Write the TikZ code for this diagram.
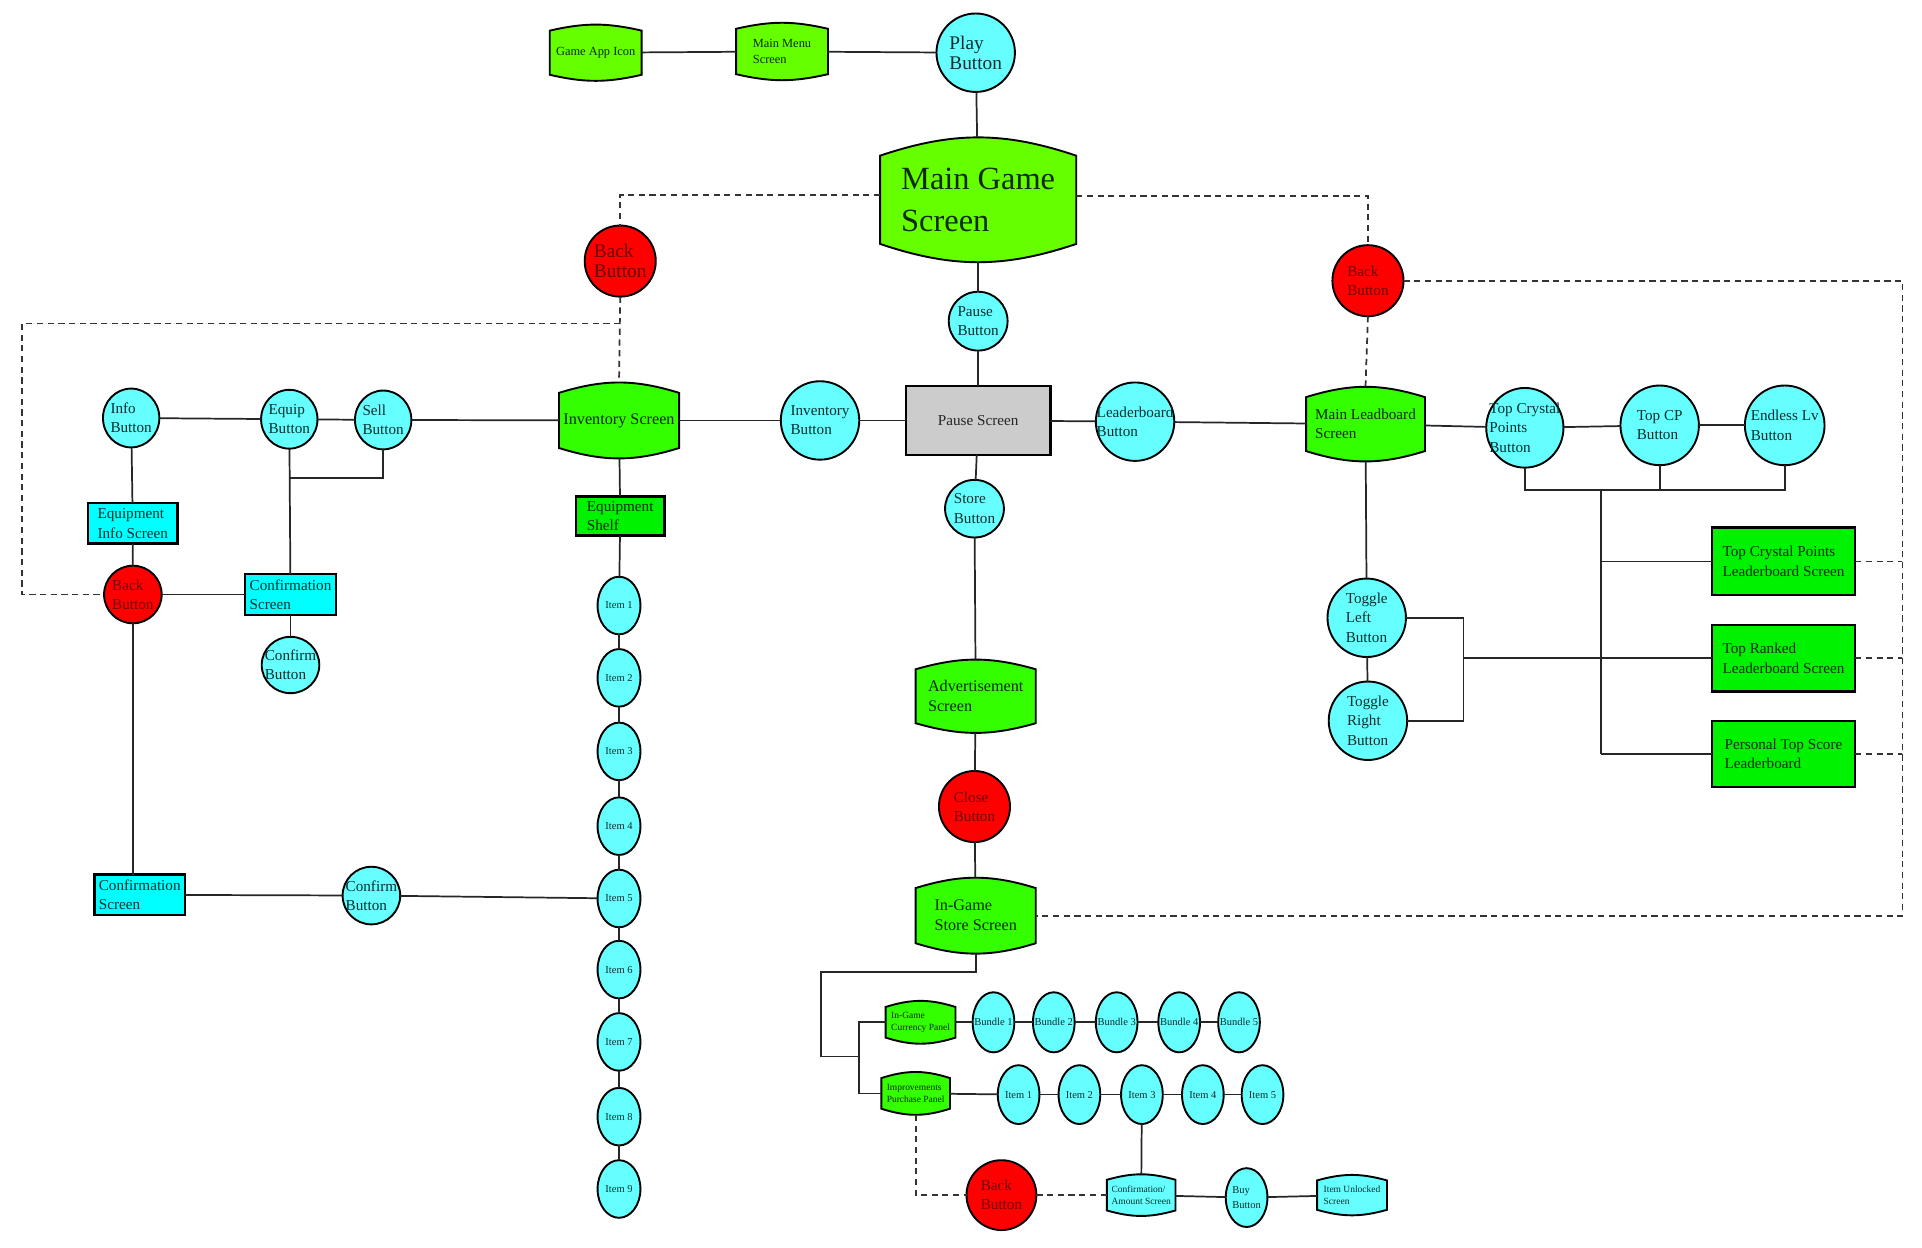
\documentclass[tikz,border=0pt]{standalone}
\usepackage{fontspec}
\setmainfont{Liberation Serif}
\usetikzlibrary{shapes.geometric,backgrounds}
\definecolor{zlime}{HTML}{66FF00}
\definecolor{zgreen}{HTML}{33FF00}
\definecolor{zgbox}{HTML}{00F200}
\definecolor{zcyan}{HTML}{66FFFF}
\definecolor{zcbox}{HTML}{00FFFF}
\definecolor{zred}{HTML}{FF0000}
\definecolor{zgrey}{HTML}{CCCCCC}
\definecolor{ztc}{HTML}{0A2E2E}
\definecolor{ztg}{HTML}{0A2A0A}
\definecolor{ztr}{HTML}{6E0000}
\newcommand{\zzstd}{\fontsize{4.4}{5.6}\selectfont}
\newcommand{\zzmed}{\fontsize{4.7}{5.8}\selectfont}
\newcommand{\zzplay}{\fontsize{5.6}{5.9}\selectfont}
\newcommand{\zzhuge}{\fontsize{9.4}{12.4}\selectfont}
\newcommand{\zzsmall}{\fontsize{3.6}{4.6}\selectfont}
\newcommand{\zzitem}{\fontsize{3.05}{4.2}\selectfont}
\newcommand{\zztiny}{\fontsize{2.75}{3.4}\selectfont}
\def\U{0.0125cm}
\newcommand{\zzbarrel}[4]{%
  \path[draw=black, line width=0.55pt, fill=#2]
    ([yshift=-#3*\U]#1.north west) to[bend left=#4] ([yshift=-#3*\U]#1.north east)
    -- ([yshift=#3*\U]#1.south east) to[bend left=#4] ([yshift=#3*\U]#1.south west)
    -- cycle;}
\begin{document}
\begin{tikzpicture}[x=0.0125cm, y=-0.0125cm,
  every node/.style={inner sep=-40pt, outer sep=0pt, align=left, font=\zzstd},
  btn/.style 2 args={ellipse, draw, line width=0.55pt, fill=zcyan, text=ztc, minimum width=#1*\U, minimum height=#2*\U},
  redbtn/.style 2 args={ellipse, draw, line width=0.55pt, fill=zred, text=ztr, minimum width=#1*\U, minimum height=#2*\U},
  cbox/.style 2 args={rectangle, draw, line width=0.7pt, fill=zcbox, text=ztc, minimum width=#1*\U, minimum height=#2*\U},
  gbox/.style 2 args={rectangle, draw, line width=0.7pt, fill=zgbox, text=ztg, minimum width=#1*\U, minimum height=#2*\U},
  greybox/.style 2 args={rectangle, draw, line width=0.7pt, fill=zgrey, text=black!85, minimum width=#1*\U, minimum height=#2*\U},
  barrel/.style 2 args={rectangle, text=ztg, minimum width=#1*\U, minimum height=#2*\U},
  cbarrel/.style 2 args={rectangle, text=ztc, minimum width=#1*\U, minimum height=#2*\U},
  conn/.style={line width=0.5pt, draw=black!85},
  dline/.style={line width=0.5pt, draw=black!80, dash pattern=on 1.8pt off 1.3pt}]
\useasboundingbox (0,0) rectangle (1568,1018);

% ---------- top ----------
\node[barrel={75}{46}, font=\zzsmall] (appicon) at (486,43) {Game App Icon};
\node[barrel={75}{47}, font=\zzsmall] (mainmenu) at (638,42) {Main Menu\\Screen};
\node[btn={64}{64}, font=\zzplay] (play) at (796,43) {Play\\Button};
\node[barrel={160}{102}, font=\zzhuge] (maingame) at (798,163) {Main Game\\Screen};
\node[redbtn={58}{58}, font=\zzplay] (back1) at (506,213) {Back\\Button};
\node[btn={48}{48}] (pausebtn) at (798,262) {Pause\\Button};
\node[greybox={118}{56}] (pause) at (798,343) {Pause Screen};
\node[btn={64}{64}] (invbtn) at (669,343) {Inventory\\Button};
\node[barrel={98}{62}, font=\zzmed] (inventory) at (505,343) {Inventory Screen};
\node[btn={64}{64}] (lbbtn) at (926,344) {Leaderboard\\Button};
\node[barrel={97}{61}] (mainlb) at (1114,346) {Main Leadboard\\Screen};
\node[redbtn={58}{58}] (back3) at (1116,229) {Back\\Button};

% ---------- leaderboard ----------
\node[btn={63}{65}] (topcrys) at (1244,349) {Top Crystal\\Points\\Button};
\node[btn={64}{65}] (topcp) at (1354,347) {Top CP\\Button};
\node[btn={65}{65}] (endless) at (1456,347) {Endless Lv\\Button};
\node[gbox={117}{55}] (tcpls) at (1455,458) {Top Crystal Points\\Leaderboard Screen};
\node[gbox={117}{54}] (toprank) at (1455,537) {Top Ranked\\Leaderboard Screen};
\node[gbox={117}{54}] (personal) at (1455,615) {Personal Top Score\\Leaderboard};
\node[btn={64}{64}] (togL) at (1115,504) {Toggle\\Left\\Button};
\node[btn={64}{64}] (togR) at (1116,588) {Toggle\\Right\\Button};

% ---------- store ----------
\node[btn={48}{47}] (storebtn) at (795,415) {Store\\Button};
\node[barrel={98}{60}, font=\zzmed] (advert) at (796,568) {Advertisement\\Screen};
\node[redbtn={58}{58}] (close) at (795,658) {Close\\Button};
\node[barrel={98}{62}, font=\zzmed] (store) at (796,747) {In-Game\\Store Screen};
\node[barrel={57}{35}, font=\zztiny] (currency) at (751,834) {In-Game\\Currency Panel};
\node[btn={34}{49}, font=\zzitem] (b1) at (810.5,834) {Bundle 1};
\node[btn={34}{49}, font=\zzitem] (b2) at (859.7,834) {Bundle 2};
\node[btn={34}{49}, font=\zzitem] (b3) at (911,834) {Bundle 3};
\node[btn={34}{49}, font=\zzitem] (b4) at (962,834) {Bundle 4};
\node[btn={34}{49}, font=\zzitem] (b5) at (1010.8,834) {Bundle 5};
\node[barrel={56}{35}, font=\zztiny] (improve) at (747,892) {Improvements\\Purchase Panel};
\node[btn={34}{48}, font=\zzitem] (si1) at (831,893) {Item 1};
\node[btn={34}{48}, font=\zzitem] (si2) at (880.6,893) {Item 2};
\node[btn={34}{48}, font=\zzitem] (si3) at (931.6,893) {Item 3};
\node[btn={34}{48}, font=\zzitem] (si4) at (981.3,893) {Item 4};
\node[btn={34}{48}, font=\zzitem] (si5) at (1030,893) {Item 5};
\node[cbarrel={56}{34}, font=\zztiny] (confamt) at (931,975) {Confirmation/\\Amount Screen};
\node[btn={34}{48}, font=\zzitem] (buy) at (1017,977) {Buy\\Button};
\node[cbarrel={57}{33}, font=\zztiny] (unlocked) at (1103,975) {Item Unlocked\\Screen};
\node[redbtn={57}{57}] (back4) at (817,975) {Back\\Button};

% ---------- inventory ----------
\node[btn={46}{48}] (info) at (107,341) {Info\\Button};
\node[btn={46}{48}] (equip) at (236,342) {Equip\\Button};
\node[btn={46}{48}] (sell) at (312.6,342.6) {Sell\\Button};
\node[cbox={73}{33}] (eqinfo) at (108.3,427) {Equipment\\Info Screen};
\node[redbtn={47}{47}] (back2) at (108.4,485) {Back\\Button};
\node[cbox={74}{33}] (confscr1) at (237,485) {Confirmation\\Screen};
\node[btn={47}{46}] (confbtn1) at (237,542.5) {Confirm\\Button};
\node[cbox={74}{33}] (confscr2) at (114,730) {Confirmation\\Screen};
\node[btn={47}{47}] (confbtn2) at (303,730.6) {Confirm\\Button};
\node[gbox={72}{32}] (shelf) at (506,421) {Equipment\\Shelf};
\foreach \i/\yy in {1/494,2/553,3/613,4/674,5/733,6/791,7/850,8/911,9/970}
  \node[btn={35}{47}, font=\zzitem] (j\i) at (505,\yy) {Item \i};

% ---------- barrel shapes ----------
\begin{scope}[on background layer]
  \fill[white] (0,0) rectangle (1568,1018);
  \zzbarrel{appicon}{zlime}{5}{13}
  \zzbarrel{mainmenu}{zlime}{5}{13}
  \zzbarrel{maingame}{zlime}{15}{18.6}
  \zzbarrel{inventory}{zgreen}{8.5}{17.2}
  \zzbarrel{mainlb}{zgreen}{8.5}{17.3}
  \zzbarrel{advert}{zgreen}{8}{16}
  \zzbarrel{store}{zgreen}{8.5}{17.2}
  \zzbarrel{currency}{zgreen}{5}{17.4}
  \zzbarrel{improve}{zgreen}{5}{17.7}
  \zzbarrel{confamt}{zcyan}{4.5}{15.9}
  \zzbarrel{unlocked}{zcyan}{4.5}{15.6}
\end{scope}

% ---------- connectors ----------
\draw[conn] (appicon) -- (mainmenu);
\draw[conn] (mainmenu) -- (play);
\draw[conn] (play) -- (maingame);
\draw[conn] (maingame) -- (pausebtn);
\draw[conn] (pausebtn) -- (pause);
\draw[conn] (pause) -- (invbtn);
\draw[conn] (invbtn) -- (inventory);
\draw[conn] (pause) -- (lbbtn);
\draw[conn] (lbbtn) -- (mainlb);
\draw[conn] (mainlb) -- (topcrys);
\draw[conn] (topcrys) -- (topcp);
\draw[conn] (topcp) -- (endless);
\coordinate (brA) at (1306,400);
\draw[conn] (topcrys.south) |- (brA);
\draw[conn] (endless.south) |- (brA);
\draw[conn] (topcp.south) -- (topcp.south |- brA);
\draw[conn] (brA) -- (brA |- personal.west);
\draw[conn] (brA |- tcpls.west) -- (tcpls.west);
\draw[conn] (brA |- personal.west) -- (personal.west);
\draw[conn] (mainlb) -- (togL);
\draw[conn] (togL) -- (togR);
\coordinate (tb) at (1194,537);
\draw[conn] (togL.east) -| (tb |- togR.east) -- (togR.east);
\draw[conn] (tb) -- (toprank.west);

\draw[conn] (pause) -- (storebtn);
\draw[conn] (storebtn) -- (advert);
\draw[conn] (advert) -- (close);
\draw[conn] (close) -- (store);
\coordinate (sA) at (670,793);
\coordinate (sB) at (670,862);
\coordinate (sC) at (701,862);
\draw[conn] (store.south) -- (store.south |- sA) -| (sB) -- (sC);
\draw[conn] (currency.west) -- (currency.west -| sC) -- (improve.west -| sC) -- (improve.west);
\draw[conn] (currency) -- (b1);
\draw[conn] (b1) -- (b2);
\draw[conn] (b2) -- (b3);
\draw[conn] (b3) -- (b4);
\draw[conn] (b4) -- (b5);
\draw[conn] (improve) -- (si1);
\draw[conn] (si1) -- (si2);
\draw[conn] (si2) -- (si3);
\draw[conn] (si3) -- (si4);
\draw[conn] (si4) -- (si5);
\draw[conn] (si3) -- (confamt);
\draw[conn] (confamt) -- (buy);
\draw[conn] (buy) -- (unlocked);

\draw[conn] (info) -- (equip);
\draw[conn] (equip) -- (sell);
\draw[conn] (sell) -- (inventory);
\draw[conn] (sell.south) |- (equip.south |- 0,390);
\draw[conn] (equip) -- (confscr1);
\draw[conn] (info) -- (eqinfo);
\draw[conn] (eqinfo) -- (back2);
\draw[conn] (back2) -- (confscr1);
\draw[conn] (confscr1) -- (confbtn1);
\draw[conn] (back2.south) -- (back2.south |- confscr2.north);
\draw[conn] (confscr2) -- (confbtn2);
\draw[conn] (confbtn2) -- (j5);
\draw[conn] (inventory) -- (shelf);
\draw[conn] (shelf) -- (j1);
\foreach \a/\b in {1/2,2/3,3/4,4/5,5/6,6/7,7/8,8/9}
  \draw[conn] (j\a) -- (j\b);

% ---------- dashed ----------
\draw[dline] ([yshift=1.4pt]maingame.west) -| (back1.north);
\draw[dline] ([yshift=1.1pt]maingame.east) -| (back3.north);
\draw[dline] (back1.south) -- (inventory.north);
\coordinate (dl) at (18,264);
\draw[dline] (back1.south |- dl) -- (dl) |- (back2.west);
\draw[dline] (back3.south) -- (mainlb.north);
\coordinate (dr) at (1552,229);
\draw[dline] (back3.east) -- (dr) |- (store.east);
\draw[dline] (tcpls.east) -- (tcpls.east -| dr);
\draw[dline] (toprank.east) -- (toprank.east -| dr);
\draw[dline] (personal.east) -- (personal.east -| dr);
\draw[dline] (improve.south) |- (back4.west);
\draw[dline] (back4.east) -- (confamt.west);
\end{tikzpicture}
\end{document}
